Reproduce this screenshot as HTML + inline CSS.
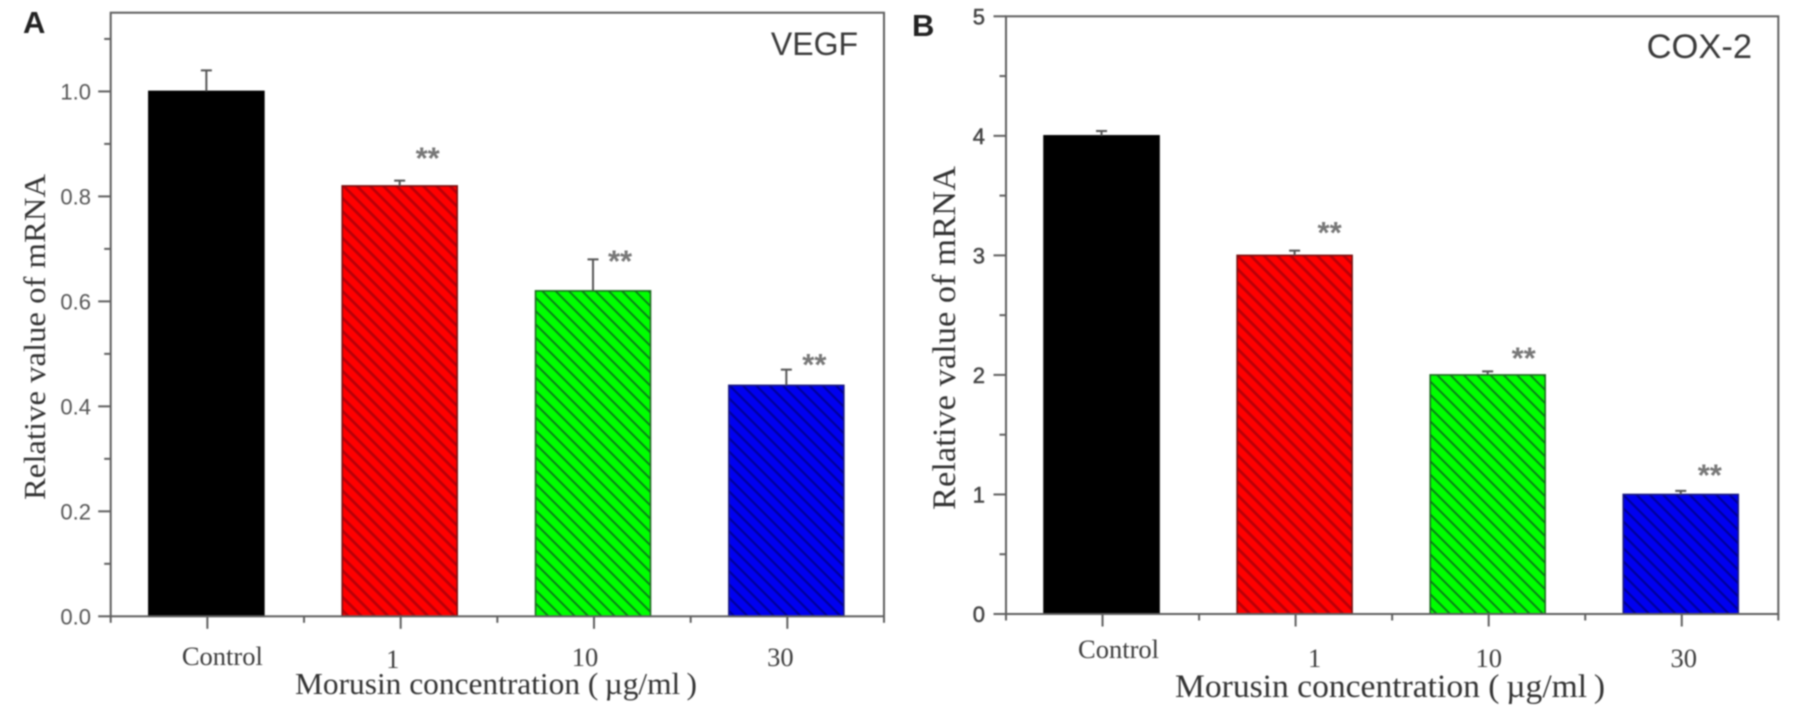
<!DOCTYPE html>
<html lang="en">
<head>
<meta charset="utf-8">
<title>Relative mRNA of VEGF and COX-2 by Morusin concentration</title>
<style>
  html, body { margin: 0; padding: 0; background: #fff; }
  body { width: 1795px; height: 721px; overflow: hidden; }
  svg { display: block; filter: blur(0.8px); }
</style>
</head>
<body>
<svg id="chart" xmlns="http://www.w3.org/2000/svg" width="1795" height="721" viewBox="0 0 1795 721">
  <defs>
    <pattern id="hatch-red" patternUnits="userSpaceOnUse" width="9.4" height="9.4" patternTransform="rotate(45)">
      <rect width="9.4" height="9.4" fill="#ff0000"/><rect width="9.4" height="2.8" fill="#b80008"/>
    </pattern>
    <pattern id="hatch-green" patternUnits="userSpaceOnUse" width="9.4" height="9.4" patternTransform="rotate(45)">
      <rect width="9.4" height="9.4" fill="#00ff00"/><rect width="9.4" height="1.9" fill="#0a7a18"/>
    </pattern>
    <pattern id="hatch-blue" patternUnits="userSpaceOnUse" width="9.4" height="9.4" patternTransform="rotate(45)">
      <rect width="9.4" height="9.4" fill="#0000f0"/><rect width="9.4" height="2.2" fill="#000098"/>
    </pattern>
  </defs>
</svg>
<script>
const categories = ['Control', '1', '10', '30'];

const valuesA = [1.0, 0.82, 0.62, 0.44];
const errorsA = [0.04, 0.01, 0.06, 0.03];
const starLevelsA = [null, 0.88, 0.684, 0.486];
const yTickValuesA = [0, 0.2, 0.4, 0.6, 0.8, 1.0];
const yTickLabelsA = ['0.0', '0.2', '0.4', '0.6', '0.8', '1.0'];
const yMinorValuesA = [0.1, 0.3, 0.5, 0.7, 0.9, 1.1];

const valuesB = [4, 3, 2, 1];
const errorsB = [0.04, 0.04, 0.03, 0.03];
const starLevelsB = [null, 3.22, 2.17, 1.19];
const yTickValuesB = [0, 1, 2, 3, 4, 5];
const yTickLabelsB = ['0', '1', '2', '3', '4', '5'];
const yMinorValuesB = [0.5, 1.5, 2.5, 3.5, 4.5];

const barFills = ['#000000', 'url(#hatch-red)', 'url(#hatch-green)', 'url(#hatch-blue)'];
const barStrokes = ['#000000', '#7a1010', '#1c6a20', '#1a1a80'];

const SVG_NS = 'http://www.w3.org/2000/svg';
const root = document.getElementById('chart');

function make(tag, attrs, parent) {
  const node = document.createElementNS(SVG_NS, tag);
  for (const key in attrs) node.setAttribute(key, attrs[key]);
  parent.appendChild(node);
  return node;
}

function drawPanel(p) {
  const y = v => p.bottom - (v / p.yMax) * (p.bottom - p.top);
  const band = (p.right - p.left) / p.categories.length;
  const xc = i => p.left + (i + 0.5) * band;
  const axisColor = '#5f5f5f';

  const g = make('g', {}, root);
  
  

  // bars and error bars
  p.values.forEach((v, i) => {
    const bar = make('rect', {
      x: xc(i) - 58.5, y: y(v), width: 115, height: p.bottom - y(v),
      fill: barFills[i], stroke: barStrokes[i], 'stroke-width': 1.6
    }, g);
    
    

    const top = y(v + p.errors[i]);
    const err = make('path', {
      d: 'M' + (xc(i) - 1) + ' ' + y(v) + 'V' + top + 'M' + (xc(i) - 6.5) + ' ' + top + 'H' + (xc(i) + 4.5),
      stroke: '#555', 'stroke-width': 2, fill: 'none'
    }, g);
    
    

    if (p.stars[i] !== null) {
      const star = make('text', {
        x: xc(i) + p.starDx[i], y: y(p.stars[i]) + 14, 'text-anchor': 'middle',
        'font-family': '"Liberation Sans", sans-serif', 'font-size': 31, 'font-weight': 'bold', fill: '#777'
      }, g);
      star.textContent = '**';
      
      
    }
  });

  // frame
  const frame = make('rect', {
    x: p.left, y: p.top, width: p.right - p.left, height: p.bottom - p.top,
    fill: 'none', stroke: axisColor, 'stroke-width': 2
  }, g);
  
  

  // y ticks
  p.yTicks.forEach((v, i) => {
    const tick = make('line', { x1: p.left - 12.5, x2: p.left, y1: y(v), y2: y(v), stroke: axisColor, 'stroke-width': 2 }, g);
    
    
    const label = make('text', {
      x: p.tickLabelX, y: y(v) + 8, 'text-anchor': 'end',
      'font-family': '"Liberation Sans", sans-serif', 'font-size': 22, fill: p.tickColor,
      stroke: p.tickColor, 'stroke-width': p.tickStroke
    }, g);
    label.textContent = p.yLabels[i];
    
    
  });
  p.yMinor.forEach(v => {
    const tick = make('line', { x1: p.left - 6.5, x2: p.left, y1: y(v), y2: y(v), stroke: axisColor, 'stroke-width': 2 }, g);
    
    
  });

  // x ticks
  p.categories.forEach((c, i) => {
    const tick = make('line', { x1: xc(i), x2: xc(i), y1: p.bottom, y2: p.bottom + 12.5, stroke: axisColor, 'stroke-width': 2 }, g);
    
    
    const label = make('text', {
      x: xc(i) + p.labelDx[i], y: p.labelY[i], 'text-anchor': 'middle',
      'font-family': '"Liberation Serif", serif', 'font-size': 26.5, fill: '#3c3c3c'
    }, g);
    label.textContent = c;
    
    
  });
  for (let i = 0; i <= p.categories.length; i++) {
    const mx = p.left + i * band;
    const tick = make('line', { x1: mx, x2: mx, y1: p.bottom, y2: p.bottom + 6.5, stroke: axisColor, 'stroke-width': 2 }, g);
    
    
  }

  // titles
  const yTitle = make('text', {
    transform: 'translate(' + p.yTitleX + ' ' + p.yTitleBottom + ') rotate(-90)',
    'font-family': '"Liberation Serif", serif', 'font-size': p.titleSize, fill: '#333',
    textLength: p.yTitleLen, lengthAdjust: 'spacingAndGlyphs'
  }, g);
  yTitle.textContent = 'Relative value of mRNA';
  
  

  const xTitle = make('text', {
    x: p.xTitleX, y: p.xTitleY,
    'font-family': '"Liberation Serif", serif', 'font-size': p.titleSize, fill: '#333',
    textLength: p.xTitleLen, lengthAdjust: 'spacingAndGlyphs'
  }, g);
  xTitle.textContent = 'Morusin concentration (\u2009\u00b5g/ml\u2009)';
  
  

  const letter = make('text', {
    x: p.letterX, y: p.letterY,
    'font-family': '"Liberation Sans", sans-serif', 'font-size': 31, 'font-weight': 'bold', fill: '#222'
  }, g);
  letter.textContent = p.letter;
  
  

  const gene = make('text', {
    x: p.geneX, y: p.geneY, 'text-anchor': 'end',
    'font-family': '"Liberation Sans", sans-serif', 'font-size': p.geneSize, fill: '#3a3a3a'
  }, g);
  gene.textContent = p.gene;
  
  
}

drawPanel({
  id: 'vegf', letter: 'A', gene: 'VEGF', categories: categories,
  values: valuesA, errors: errorsA, stars: starLevelsA,
  yTicks: yTickValuesA, yLabels: yTickLabelsA, yMinor: yMinorValuesA, yMax: 1.15,
  left: 110.7, right: 884, top: 12.7, bottom: 616.3,
  tickLabelX: 91, tickColor: '#555', tickStroke: 0,
  starDx: [0, 27, 26, 27], labelDx: [15, -8, -9, -7], labelY: [665, 668, 666, 666],
  titleSize: 31, yTitleX: 45, yTitleBottom: 500, yTitleLen: 326,
  xTitleX: 295, xTitleY: 694, xTitleLen: 402,
  letterX: 23, letterY: 33, geneX: 858, geneY: 55, geneSize: 32
});

drawPanel({
  id: 'cox2', letter: 'B', gene: 'COX-2', categories: categories,
  values: valuesB, errors: errorsB, stars: starLevelsB,
  yTicks: yTickValuesB, yLabels: yTickLabelsB, yMinor: yMinorValuesB, yMax: 5,
  left: 1006, right: 1778.3, top: 16.3, bottom: 614,
  tickLabelX: 985, tickColor: '#444', tickStroke: 0.5,
  starDx: [0, 34, 35, 28], labelDx: [16, 19, 0, 2], labelY: [658, 667, 667, 667],
  titleSize: 33, yTitleX: 955, yTitleBottom: 510, yTitleLen: 344,
  xTitleX: 1175, xTitleY: 697, xTitleLen: 430,
  letterX: 912, letterY: 36, geneX: 1752, geneY: 58, geneSize: 34.5
});
</script>
</body>
</html>
